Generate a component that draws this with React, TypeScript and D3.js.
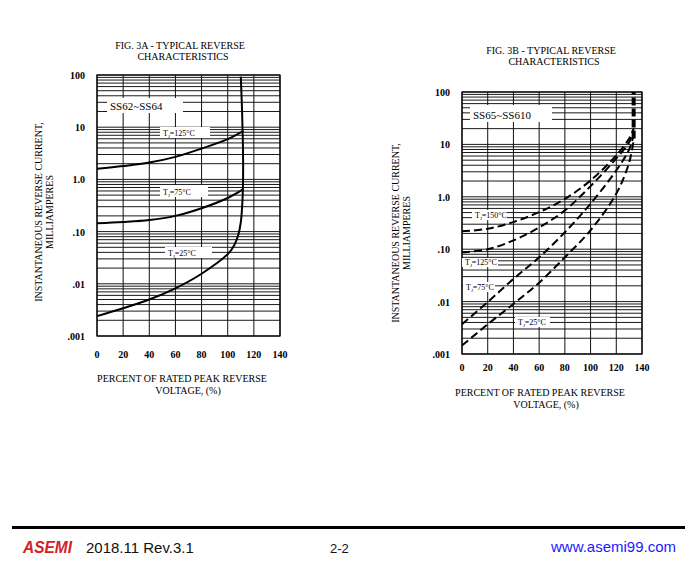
import React from "react";
import * as d3 from "d3";

type Pt = [number, number];

// x = percent of rated peak reverse voltage, y = reverse current (mA)
const xTicks = [0, 20, 40, 60, 80, 100, 120, 140];
const yTicks = [100, 10, 1, 0.1, 0.01, 0.001];
const yTickLabels = ["100", "10", "1.0", ".10", ".01", ".001"];

// FIG. 3A  SS62~SS64 (solid)
const a125: Pt[] = [[0, 1.6], [20, 1.8], [40, 2.1], [60, 2.7], [80, 3.9], [100, 5.9], [112, 8.5]];
const a75: Pt[] = [[0, 0.144], [20, 0.152], [40, 0.166], [60, 0.2], [80, 0.28], [100, 0.44], [112, 0.65]];
const a25: Pt[] = [
  [0, 0.0024], [20, 0.0034], [40, 0.005], [60, 0.0082], [80, 0.0156], [100, 0.037],
  [105, 0.055], [108, 0.085], [110, 0.15], [111.3, 0.4], [111.8, 1.5], [111.6, 5], [111, 20], [110, 93],
];

// FIG. 3B  SS65~SS610 (dashed)
const b150: Pt[] = [[0, 0.22], [20, 0.245], [40, 0.33], [60, 0.51], [80, 0.91], [100, 2.05], [120, 6.2], [130, 13], [133.5, 20]];
const b125: Pt[] = [[0, 0.087], [20, 0.1], [40, 0.147], [60, 0.26], [80, 0.55], [100, 1.6], [120, 5.4], [130, 11], [133.5, 18]];
const b75: Pt[] = [[0, 0.0037], [20, 0.0098], [40, 0.027], [60, 0.07], [80, 0.21], [100, 0.74], [120, 3.2], [130, 8], [133.5, 15]];
const b25: Pt[] = [[0, 0.00145], [20, 0.0037], [40, 0.009], [60, 0.023], [80, 0.07], [100, 0.23], [120, 1.15], [130, 4.5], [133.5, 12]];
const bRiser: Pt[] = [[133.5, 13], [133.5, 100]];

const SERIF = "'Liberation Serif', 'Times New Roman', serif";
const SANS = "'Liberation Sans', Arial, sans-serif";

type Label = { text: string; temp?: string; x: number; y: number; w: number; h: number; size: number };

type ChartProps = {
  x0: number; x1: number; y0: number; y1: number;
  series: Pt[][];
  dashed: boolean;
  riser?: Pt[];
  labels: Label[];
  title: [string, string];
  titleY: number;
  titleX: number;
  xTickY: number;
  xTitleY: number;
  xTitleX: number;
  yTitleX: number;
  yTitleY: number;
};

function Chart(p: ChartProps) {
  const x = d3.scaleLinear().domain([0, 140]).range([p.x0, p.x1]);
  const y = d3.scaleLog().domain([0.001, 100]).range([p.y1, p.y0]);
  const minor: number[] = [];
  for (let e = -3; e < 2; e++) for (let m = 1; m <= 9; m++) minor.push(m * Math.pow(10, e));
  minor.push(100);
  const line = d3
    .line<Pt>()
    .x((d) => x(d[0]))
    .y((d) => y(d[1]))
    .curve(d3.curveCatmullRom.alpha(0.5));
  return (
    <g>
      <text x={p.titleX} y={p.titleY} textAnchor="middle" fontFamily={SERIF} fontSize={10}>{p.title[0]}</text>
      <text x={p.titleX + 3} y={p.titleY + 11} textAnchor="middle" fontFamily={SERIF} fontSize={10}>{p.title[1]}</text>
      {minor.map((v, i) => (
        <line key={"h" + i} x1={p.x0} x2={p.x1} y1={y(v)} y2={y(v)} stroke="#1a1a1a" strokeWidth={1} />
      ))}
      {xTicks.map((v) => (
        <line key={"v" + v} x1={x(v)} x2={x(v)} y1={p.y0} y2={p.y1} stroke="#111" strokeWidth={1} />
      ))}
      <rect x={p.x0} y={p.y0} width={p.x1 - p.x0} height={p.y1 - p.y0} fill="none" stroke="#000" strokeWidth={1.2} />
      {p.labels.map((l, i) => (
        <g key={"l" + i}>
          <rect x={l.x} y={l.y} width={l.w} height={l.h} fill="#fff" />
          {l.temp ? (
            <text x={l.x + 3} y={l.y + l.h - 2} fontFamily={SERIF} fontSize={l.size}>
              T<tspan fontSize={l.size - 3} dy={2}>J</tspan>
              <tspan dy={-2}>={l.temp}°C</tspan>
            </text>
          ) : (
            <text x={l.x + 3} y={l.y + l.h - 3.5} fontFamily={SERIF} fontSize={l.size}>{l.text}</text>
          )}
        </g>
      ))}
      {p.series.map((s, i) => (
        <path key={"s" + i} d={line(s) || ""} fill="none" stroke="#000" strokeWidth={2}
          strokeDasharray={p.dashed ? "8,4" : undefined} />
      ))}
      {p.riser && (
        <path d={line(p.riser) || ""} fill="none" stroke="#000" strokeWidth={4} strokeDasharray="8,3" />
      )}
      {yTicks.map((v, i) => (
        <text key={"yt" + v} x={p.x0 - 12} y={y(v) + 4} textAnchor="end" fontFamily={SERIF} fontSize={10} fontWeight="bold">
          {yTickLabels[i]}
        </text>
      ))}
      {xTicks.map((v) => (
        <text key={"xt" + v} x={x(v)} y={p.xTickY} textAnchor="middle" fontFamily={SERIF} fontSize={10} fontWeight="bold">
          {v}
        </text>
      ))}
      <text x={p.xTitleX} y={p.xTitleY} textAnchor="middle" fontFamily={SERIF} fontSize={10}>PERCENT OF RATED PEAK REVERSE</text>
      <text x={p.xTitleX + 6} y={p.xTitleY + 12} textAnchor="middle" fontFamily={SERIF} fontSize={10}>VOLTAGE, (%)</text>
      <text transform={`translate(${p.yTitleX},${p.yTitleY}) rotate(-90)`} textAnchor="middle" fontFamily={SERIF} fontSize={10}>
        INSTANTANEOUS REVERSE CURRENT,
      </text>
      <text transform={`translate(${p.yTitleX + 11},${p.yTitleY}) rotate(-90)`} textAnchor="middle" fontFamily={SERIF} fontSize={10}>
        MILLIAMPERES
      </text>
    </g>
  );
}

export default function App() {
  return (
    <svg width={700} height={583} style={{ position: "absolute", left: 0, top: 0, background: "#fff" }}>
      <Chart
        x0={97} x1={280} y0={75} y1={336}
        series={[a125, a75, a25]}
        dashed={false}
        labels={[
          { text: "SS62~SS64", x: 107, y: 98, w: 76, h: 15, size: 11 },
          { text: "", temp: "125", x: 160, y: 127, w: 50, h: 11, size: 8 },
          { text: "", temp: "75", x: 160, y: 185, w: 48, h: 12, size: 8 },
          { text: "", temp: "25", x: 165, y: 247, w: 47, h: 11, size: 8 },
        ]}
        title={["FIG. 3A - TYPICAL REVERSE", "CHARACTERISTICS"]}
        titleX={180} titleY={49}
        xTickY={358}
        xTitleX={182} xTitleY={382}
        yTitleX={42} yTitleY={212}
      />
      <Chart
        x0={462} x1={642} y0={92} y1={354}
        series={[b150, b125, b75, b25]}
        dashed={true}
        riser={bRiser}
        labels={[
          { text: "SS65~SS610", x: 470, y: 105, w: 82, h: 17, size: 11 },
          { text: "", temp: "150", x: 472, y: 210, w: 35, h: 10, size: 8 },
          { text: "", temp: "125", x: 462, y: 258, w: 36, h: 9, size: 8 },
          { text: "", temp: "75", x: 463, y: 282, w: 32, h: 10, size: 8 },
          { text: "", temp: "25", x: 515, y: 317, w: 35, h: 10, size: 8 },
        ]}
        title={["FIG. 3B - TYPICAL REVERSE", "CHARACTERISTICS"]}
        titleX={551} titleY={54}
        xTickY={371}
        xTitleX={540} xTitleY={396}
        yTitleX={399} yTitleY={233}
      />
      <rect x={12} y={526} width={673} height={3} fill="#000" />
      <text x={23} y={553} fontFamily={SANS} fontSize={17} fontWeight="bold" fontStyle="italic" fill="#d42027"
        textLength={49} lengthAdjust="spacingAndGlyphs">ASEMI</text>
      <text x={86} y={553} fontFamily={SANS} fontSize={15} fill="#111">2018.11 Rev.3.1</text>
      <text x={330} y={553} fontFamily={SANS} fontSize={13} fill="#111">2-2</text>
      <text x={551} y={552} fontFamily={SANS} fontSize={15} fill="#1a1aff">www.asemi99.com</text>
    </svg>
  );
}
